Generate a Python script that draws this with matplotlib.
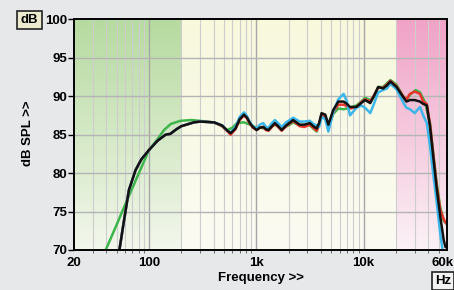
import numpy as np
import matplotlib
matplotlib.use("Agg")
import matplotlib.pyplot as plt
import matplotlib.transforms as mtransforms
from matplotlib.colors import LinearSegmentedColormap

plt.rcParams["font.family"] = ["Liberation Sans", "DejaVu Sans"]
plt.rcParams["font.weight"] = "bold"

# --- Data -------------------------------------------------------------------
# shared frequency grid for black / red / blue traces (Hz)
FREQ_HZ = [
    53, 58, 65, 75, 85, 100, 120, 143, 158, 180,
    200, 262, 300, 404, 480, 540, 578, 640, 700, 768,
    820, 874, 930, 1008, 1080, 1164, 1230, 1300, 1400, 1492,
    1600, 1726, 1900, 2208, 2540, 2800, 3160, 3400, 3660, 3850,
    4060, 4400, 4700, 5220, 5820, 6520, 7000, 7480, 8600, 9500,
    10340, 11550, 12500, 13700, 15200, 16500, 17800, 20300, 23400, 25100,
    27100, 30000, 33600, 36000, 38900, 41700, 45000, 48300, 52000, 55900,
    58000, 60000,
]
SPL_BLACK = [
    70.0, 73.5, 77.8, 80.4, 81.8, 83.0, 84.2, 85.0, 85.1, 85.7,
    86.1, 86.6, 86.7, 86.6, 86.2, 85.5, 85.2, 85.8, 87.0, 87.6,
    87.2, 86.5, 86.0, 85.6, 85.9, 86.0, 85.7, 85.6, 86.1, 86.5,
    86.1, 85.6, 86.2, 86.9, 86.3, 86.3, 86.5, 86.1, 85.8, 86.5,
    87.8, 87.6, 86.3, 88.2, 89.3, 89.3, 89.0, 88.6, 88.6, 89.1,
    89.5, 89.1, 90.0, 91.2, 91.0, 91.4, 91.9, 91.2, 89.9, 89.3,
    89.5, 89.5, 89.3, 89.0, 88.8, 86.0, 81.7, 77.8, 74.3, 71.3,
    70.4, 70.3,
]
SPL_RED = [
    70.0, 73.5, 77.8, 80.4, 81.8, 83.0, 84.2, 85.0, 85.1, 85.7,
    86.1, 86.6, 86.7, 86.6, 86.1, 85.4, 85.0, 85.7, 86.9, 87.5,
    87.1, 86.4, 85.9, 85.6, 85.9, 86.0, 85.6, 85.5, 86.0, 86.4,
    86.0, 85.5, 86.1, 86.8, 86.1, 86.0, 86.3, 85.9, 85.5, 86.3,
    87.6, 87.4, 86.0, 87.9, 88.9, 88.9, 88.7, 88.4, 88.6, 89.2,
    89.6, 89.3, 90.1, 91.1, 91.1, 91.5, 92.0, 91.3, 90.0, 89.6,
    90.3, 90.6, 90.3, 89.3, 89.0, 86.3, 82.0, 78.2, 75.2, 74.0,
    73.6, 73.4,
]
SPL_BLUE = [
    70.0, 73.5, 77.8, 80.4, 81.8, 83.0, 84.2, 85.0, 85.1, 85.7,
    86.1, 86.6, 86.7, 86.6, 86.2, 85.5, 85.3, 86.0, 87.3, 87.9,
    87.4, 86.6, 86.1, 85.8, 86.3, 86.5, 86.0, 85.9, 86.5, 86.9,
    86.5, 86.0, 86.6, 87.2, 86.7, 86.7, 86.8, 86.4, 86.2, 86.0,
    87.3, 87.0, 85.4, 87.9, 89.6, 90.3, 89.3, 87.5, 88.5, 88.8,
    88.5, 87.8, 89.0, 90.5, 90.8, 91.0, 91.6, 90.9, 89.2, 88.5,
    88.3, 87.8, 88.6, 87.5, 86.5, 83.5, 79.5, 76.0, 72.0, 69.0,
    68.5, 68.0,
]
FREQ_GREEN_HZ = [
    39.5, 50, 63, 80, 100, 120, 138, 160, 197, 250,
    348, 420, 480, 534, 600, 660, 768, 874, 1008, 1100,
    1300, 1492, 1726, 2000, 2208, 2540, 3160, 3660, 4060, 4400,
    4700, 5220, 5820, 6520, 7480, 8600, 9500, 10340, 11550, 12500,
    13700, 15200, 17800, 20300, 23400, 25100, 27100, 30600, 33600, 37500,
    41700, 45000, 48300, 52000, 56000, 60000,
]
SPL_GREEN = [
    70.0, 73.3, 76.6, 79.9, 83.0, 84.4, 85.6, 86.4, 86.8, 86.9,
    86.7, 86.5, 86.1, 85.6, 85.9, 86.5, 86.6, 86.3, 85.9, 85.9,
    85.7, 86.3, 85.8, 86.2, 86.6, 86.2, 86.2, 85.4, 87.4, 87.3,
    85.9, 87.7, 88.4, 88.3, 88.5, 88.8, 89.3, 89.8, 89.5, 90.0,
    91.2, 91.2, 92.1, 91.5, 90.0, 89.5, 90.2, 90.8, 90.5, 89.2,
    86.5, 82.2, 78.5, 75.5, 73.8, 73.3,
]

X_TICKS = [20, 100, 1000, 10000, 60000]
X_TICK_LABELS = ["20", "100", "1k", "10k", "60k"]
Y_TICKS = [70, 75, 80, 85, 90, 95, 100]

F_MIN, F_MAX = 20, 60000
BASS_EDGE = 200
TREBLE_EDGE = 20000


def gradient_band(ax, f0, f1, top, bottom):
    span = np.log10(F_MAX / F_MIN)
    x0 = np.log10(f0 / F_MIN) / span
    x1 = np.log10(f1 / F_MIN) / span
    cmap = LinearSegmentedColormap.from_list("band", [bottom, top])
    grad = np.linspace(1, 0, 256).reshape(-1, 1)
    ax.imshow(grad, cmap=cmap, extent=[x0, x1, 0, 1], transform=ax.transAxes,
              aspect="auto", zorder=0, interpolation="bilinear")


def main():
    fig = plt.figure(figsize=(4.54, 2.90), dpi=100)
    fig.patch.set_facecolor("#e7e8ea")
    ax = fig.add_axes([74 / 454, 1 - 250 / 290, 373 / 454, 230.7 / 290])
    ax.set_xscale("log")

    gradient_band(ax, F_MIN, BASS_EDGE, "#b6daa0", "#f3f7ec")
    gradient_band(ax, BASS_EDGE, TREBLE_EDGE, "#f7f8dc", "#fbfbf3")
    gradient_band(ax, TREBLE_EDGE, F_MAX, "#f0a2c6", "#fbf2f6")

    # grid
    minor = [m * d for d in (10, 100, 1000, 10000) for m in range(2, 10)
             if F_MIN < m * d < F_MAX]
    for f in minor:
        ax.axvline(f, color="#cdcdcd", linewidth=0.8, zorder=1)
    for f in (100, 1000, 10000):
        ax.axvline(f, color="#a6a6a6", linewidth=1.0, zorder=1)
    for y in Y_TICKS[1:-1]:
        ax.axhline(y, color="#b4b4b4", linewidth=1.0, zorder=1)

    lw = 1.8
    ax.plot(FREQ_GREEN_HZ, SPL_GREEN, color="#3db54a", linewidth=lw, zorder=3)
    ax.plot(FREQ_HZ, SPL_RED, color="#e8342b", linewidth=lw, zorder=4)
    ax.plot(FREQ_HZ, SPL_BLUE, color="#3bb6ea", linewidth=lw, zorder=5)
    ax.plot(FREQ_HZ, SPL_BLACK, color="#111111", linewidth=lw, zorder=6)

    ax.set_xlim(F_MIN, F_MAX)
    ax.set_ylim(70, 100)
    ax.set_xticks(X_TICKS)
    ax.set_xticklabels(X_TICK_LABELS)
    ax.set_xticks(minor, minor=True)
    ax.set_yticks(Y_TICKS)
    ax.tick_params(axis="x", which="major", length=0, pad=5, labelsize=9.5)
    ax.tick_params(axis="x", which="minor", length=2, width=0.6, color="#555555")
    ax.tick_params(axis="y", length=4, width=1.0, pad=1, labelsize=9.5)
    for lab in ax.get_xticklabels() + ax.get_yticklabels():
        lab.set_fontweight("bold")
    # nudge the last frequency label inside the picture
    last = ax.get_xticklabels()[-1]
    last.set_transform(last.get_transform() +
                       mtransforms.ScaledTranslation(-4 / 100, 0, fig.dpi_scale_trans))
    for sp in ax.spines.values():
        sp.set_linewidth(1.4)
        sp.set_zorder(10)

    fig.text(261 / 454, 1 - 278 / 290, "Frequency >>", ha="center", va="center",
             fontsize=9.5, fontweight="bold")
    fig.text(28 / 454, 1 - 133 / 290, "dB SPL >>", ha="center", va="center",
             rotation=90, fontsize=9.5, fontweight="bold")
    fig.text(29.5 / 454, 1 - 20 / 290, "dB", ha="center", va="center",
             fontsize=9.5, fontweight="bold",
             bbox=dict(boxstyle="square,pad=0.25", facecolor="#ecebcf",
                       edgecolor="#222222", linewidth=1.2))
    fig.text(443 / 454, 1 - 281 / 290, "Hz", ha="center", va="center",
             fontsize=9.5, fontweight="bold",
             bbox=dict(boxstyle="square,pad=0.25", facecolor="#f2f2f2",
                       edgecolor="#222222", linewidth=1.2))

    fig.savefig("out.png", dpi=100, facecolor=fig.get_facecolor())


if __name__ == "__main__":
    main()
